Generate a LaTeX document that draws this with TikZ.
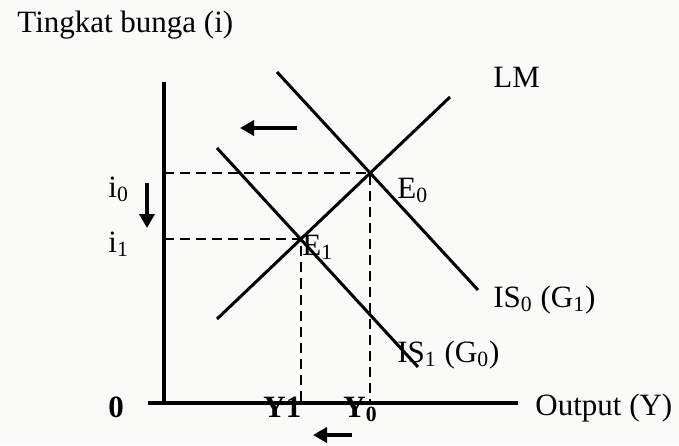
\documentclass[tikz,border=0pt]{standalone}
\usepackage{fontspec}
\setmainfont{Liberation Serif}
\usetikzlibrary{arrows.meta,positioning}
\definecolor{paper}{HTML}{FAFBF8}

\begin{document}
\begin{tikzpicture}[x=0.5pt,y=-0.5pt,
    lbl/.style={inner sep=0pt,anchor=base west,font=\fontsize{15.5}{18}\selectfont},
    axisline/.style={line width=1.9pt},
    sched/.style={line width=1.5pt},
    guide/.style={line width=0.8pt,dash pattern=on 5pt off 3pt},
    move/.style={line width=2pt,-{Triangle[length=7pt,width=7.5pt]}}]
    \fill[paper] (0,0) rectangle (679,445);
    \useasboundingbox (0,0) rectangle (679,445);
    \node[lbl] (title) at (17,32) {Tingkat bunga (i)};
    \coordinate (top) at (164,82);
    \coordinate (orig) at (164,403);
    \coordinate (xstart) at (148,403);
    \coordinate (xend) at (518,403);
    \coordinate (lm1) at (217,319);
    \coordinate (lm2) at (450,97);
    \coordinate (isa1) at (277,72);
    \coordinate (isa2) at (478,290);
    \coordinate (isb1) at (217,148);
    \coordinate (isb2) at (418,367);
    \coordinate (e0) at (intersection of lm1--lm2 and isa1--isa2);
    \coordinate (e1) at (intersection of lm1--lm2 and isb1--isb2);
    \draw[guide] (e0 -| orig) -- (e0) -- (e0 |- orig);
    \draw[guide] (e1 -| orig) -- (e1) -- (e1 |- orig);
    \draw[axisline] (top) -- (orig);
    \draw[axisline] (xstart) -- (xend);
    \draw[sched] (lm1) -- (lm2);
    \draw[sched] (isa1) -- (isa2);
    \draw[sched] (isb1) -- (isb2);
    \node[lbl] (lm) at (493,87) {LM};
    \node[lbl] (is0) at (493,307) {IS\textsubscript{0} (G\textsubscript{1})};
    \node[lbl] (is1) at (397,362) {IS\textsubscript{1} (G\textsubscript{0})};
    \node[lbl] (e0lbl) at (397,198) {E\textsubscript{0}};
    \node[lbl] (e1lbl) at (302,255) {E\textsubscript{1}};
    \node[lbl] (i0) at (108,197) {i\textsubscript{0}};
    \node[lbl] (i1) at (108,252) {i\textsubscript{1}};
    \node[lbl] (zero) at (108,417) {\textbf{0}};
    \node[lbl] (y1) at (263,417) {\textbf{Y1}};
    \node[lbl] (y0) at (343,417) {\textbf{Y\textsubscript{0}}};
    \node[lbl] (output) at (535,415) {Output (Y)};
    \coordinate (ma) at (297,128);
    \coordinate (mb) at (240,128);
    \coordinate (mc) at (147,183);
    \coordinate (md) at (147,228);
    \coordinate (me) at (352,435);
    \coordinate (mf) at (313,435);
    \draw[move] (ma) -- (mb);
    \draw[move] (mc) -- (md);
    \draw[move] (me) -- (mf);
\end{tikzpicture}
\end{document}
